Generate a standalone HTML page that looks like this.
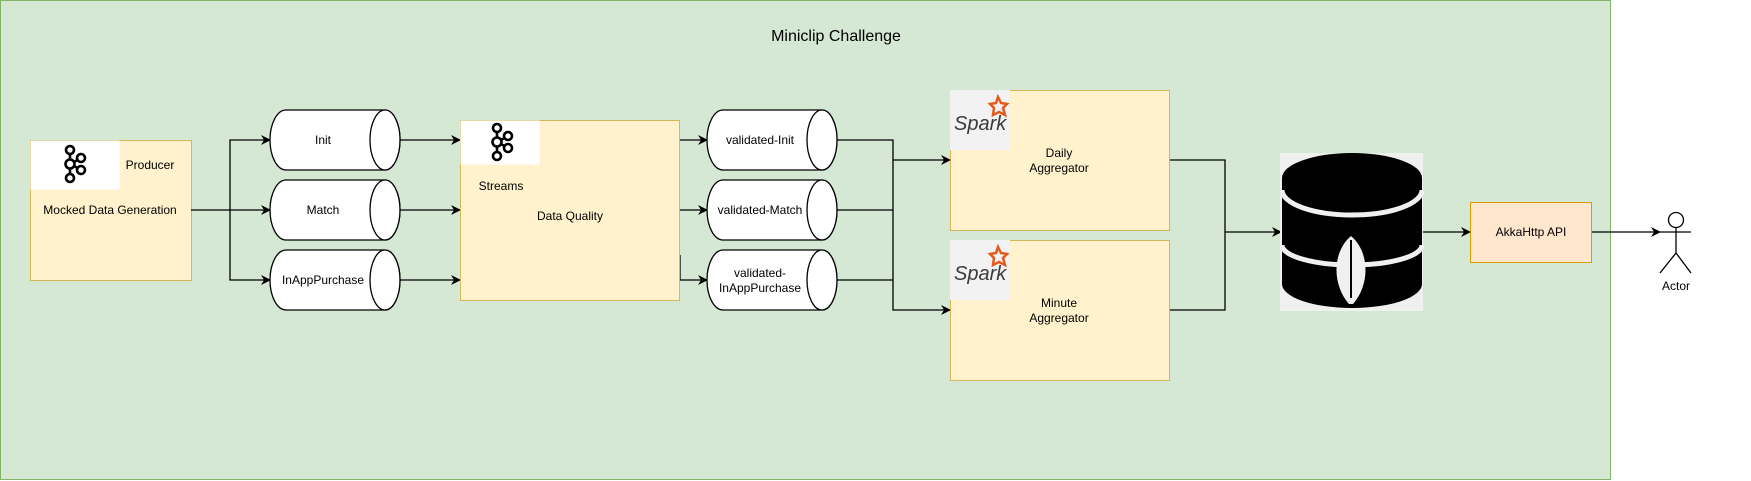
<!DOCTYPE html>
<html><head><style>body{margin:0;background:#fff}svg{display:block}text{font-family:"Liberation Sans",Arial,sans-serif;font-size:12px;fill:#000}</style></head>
<body>
<svg width="1751" height="481" viewBox="0 0 1751 481" xmlns="http://www.w3.org/2000/svg">
<defs>
<marker id="a" markerWidth="10" markerHeight="10" refX="9" refY="5" orient="auto" markerUnits="userSpaceOnUse"><path d="M0,0 L10,5 L0,10 L3,5 Z" fill="#000"/></marker>
<g id="kafka" fill="none" stroke="#000" stroke-width="2.6">
<circle cx="0" cy="-14" r="4"/><circle cx="0" cy="0" r="4.5"/><circle cx="0" cy="14" r="4"/><circle cx="11" cy="-6" r="4"/><circle cx="11" cy="6" r="4"/>
<path d="M0,-10 V-4.5 M0,4.5 V10 M4,-2 L7.5,-4 M4,2 L7.5,4"/></g>
<g id="spark"><rect width="60" height="60" fill="#f2f2f2"/><text x="4" y="40" style="font-size:20px;font-style:italic;fill:#3c3a3e">Spark</text><path d="M48,7 l3,6 6,1 -4,4 2,7 -6,-3 -6,3 1,-7 -4,-4 6,-1z" fill="none" stroke="#e25a1c" stroke-width="2.5"/></g>
</defs>
<rect x="0.5" y="0.5" width="1610" height="479" fill="#d5e8d4" stroke="#82b366"/>
<text x="836" y="41" text-anchor="middle" style="font-size:16px">Miniclip Challenge</text>

<!-- producer -->
<rect x="30.5" y="140.5" width="161" height="140" fill="#fff2cc" stroke="#d6b656"/>
<rect x="30.5" y="140.5" width="89" height="49" fill="#fff"/>
<use href="#kafka" x="70" y="164"/>
<text x="150" y="169" text-anchor="middle">Producer</text>
<text x="110" y="214" text-anchor="middle">Mocked Data Generation</text>

<g stroke="#000" fill="none" stroke-width="1.3">
<path d="M191,210 H270" marker-end="url(#a)"/>
<path d="M230,210 V140 H270" marker-end="url(#a)"/>
<path d="M230,210 V280 H270" marker-end="url(#a)"/>
<path d="M400,140 H460" marker-end="url(#a)"/>
<path d="M400,210 H460" marker-end="url(#a)"/>
<path d="M400,280 H460" marker-end="url(#a)"/>
<path d="M680,140 H707" marker-end="url(#a)"/>
<path d="M680,210 H707" marker-end="url(#a)"/>
<path d="M680,255 V280 H707" marker-end="url(#a)"/>
<path d="M837,140 H893 V310 H950" marker-end="url(#a)"/>
<path d="M837,210 H893"/><path d="M837,280 H893"/>
<path d="M893,160 H950" marker-end="url(#a)"/>
<path d="M1170,160 H1225 V310 H1170"/>
<path d="M1225,232 H1281" marker-end="url(#a)"/>
<path d="M1423,232 H1470" marker-end="url(#a)"/>
<path d="M1591,232 H1660" marker-end="url(#a)"/>
</g>

<!-- cylinders -->
<g stroke="#000" stroke-width="1.3" fill="#fff">
<path d="M286,110 H385 A15,30 0 0 1 385,170 H286 A16,30 0 0 1 286,110 Z"/><ellipse cx="385" cy="140" rx="15" ry="30"/>
<path d="M286,180 H385 A15,30 0 0 1 385,240 H286 A16,30 0 0 1 286,180 Z"/><ellipse cx="385" cy="210" rx="15" ry="30"/>
<path d="M286,250 H385 A15,30 0 0 1 385,310 H286 A16,30 0 0 1 286,250 Z"/><ellipse cx="385" cy="280" rx="15" ry="30"/>
<path d="M723,110 H822 A15,30 0 0 1 822,170 H723 A16,30 0 0 1 723,110 Z"/><ellipse cx="822" cy="140" rx="15" ry="30"/>
<path d="M723,180 H822 A15,30 0 0 1 822,240 H723 A16,30 0 0 1 723,180 Z"/><ellipse cx="822" cy="210" rx="15" ry="30"/>
<path d="M723,250 H822 A15,30 0 0 1 822,310 H723 A16,30 0 0 1 723,250 Z"/><ellipse cx="822" cy="280" rx="15" ry="30"/>
</g>
<text x="323" y="144" text-anchor="middle">Init</text>
<text x="323" y="214" text-anchor="middle">Match</text>
<text x="323" y="284" text-anchor="middle">InAppPurchase</text>
<text x="760" y="144" text-anchor="middle">validated-Init</text>
<text x="760" y="214" text-anchor="middle">validated-Match</text>
<text x="760" y="277" text-anchor="middle">validated-</text>
<text x="760" y="292" text-anchor="middle">InAppPurchase</text>

<!-- data quality -->
<rect x="460.5" y="120.5" width="219" height="180" fill="#fff2cc" stroke="#d6b656"/>
<rect x="460.5" y="120.5" width="79" height="44" fill="#fff"/>
<use href="#kafka" x="497" y="142"/>
<text x="501" y="190" text-anchor="middle">Streams</text>
<text x="570" y="220" text-anchor="middle">Data Quality</text>

<!-- aggregators -->
<rect x="950.5" y="90.5" width="219" height="140" fill="#fff2cc" stroke="#d6b656"/>
<use href="#spark" x="950" y="90"/>
<text x="1059" y="157" text-anchor="middle">Daily</text>
<text x="1059" y="172" text-anchor="middle">Aggregator</text>
<rect x="950.5" y="240.5" width="219" height="140" fill="#fff2cc" stroke="#d6b656"/>
<use href="#spark" x="950" y="240"/>
<text x="1059" y="307" text-anchor="middle">Minute</text>
<text x="1059" y="322" text-anchor="middle">Aggregator</text>

<!-- mongo -->
<rect x="1280" y="153" width="143" height="158" fill="#f0f0f0"/>
<path d="M1282,178 A70,25 0 0 1 1422,178 V284 A70,24 0 0 1 1282,284 Z" fill="#000"/>
<path d="M1282,190 A70,25 0 0 0 1422,190" fill="none" stroke="#f0f0f0" stroke-width="5"/>
<path d="M1282,245 A70,20 0 0 0 1422,245" fill="none" stroke="#f0f0f0" stroke-width="5"/>
<path d="M1351,236 C1370,252 1370,285 1353,304 H1349 C1332,285 1332,252 1351,236 Z" fill="#f0f0f0"/>
<path d="M1351,240 V298" stroke="#000" stroke-width="2"/>

<!-- akka -->
<rect x="1470.5" y="202.5" width="121" height="60" fill="#ffe6cc" stroke="#d79b00"/>
<text x="1531" y="236" text-anchor="middle">AkkaHttp API</text>

<!-- actor -->
<g stroke="#000" stroke-width="1.3" fill="#fff">
<circle cx="1676" cy="220" r="7.5"/>
<path d="M1676,227.5 V253 M1660,232 H1691 M1660,273 L1676,253 L1691,273" fill="none"/>
</g>
<text x="1676" y="290" text-anchor="middle">Actor</text>
</svg>
</body></html>
